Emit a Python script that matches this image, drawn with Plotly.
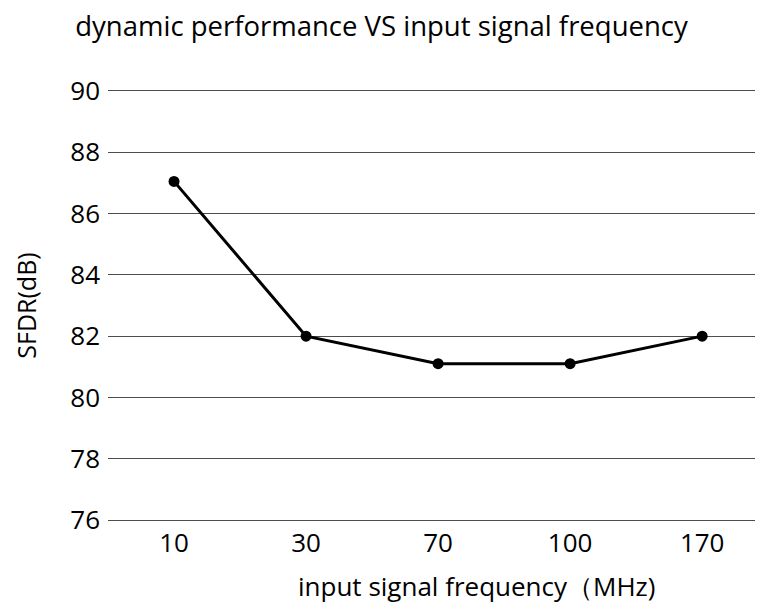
import plotly.graph_objects as go

categories = ["10", "30", "70", "100", "170"]
sfdr = [87.05, 82.0, 81.1, 81.1, 82.0]
y_ticks = [76, 78, 80, 82, 84, 86, 88, 90]

FONT = "Open Sans"
GRID = "#4d4d4d"

fig = go.Figure()
fig.add_trace(go.Scatter(
    x=categories, y=sfdr, mode="lines+markers",
    line=dict(color="black", width=3),
    marker=dict(color="black", size=11),
    showlegend=False,
))

fig.update_layout(
    width=747, height=597,
    margin=dict(l=100, r=0, t=83, b=85),
    paper_bgcolor="white", plot_bgcolor="white",
    font=dict(family=FONT, color="black"),
    title=dict(text="dynamic performance VS input signal frequency",
               x=0.5, xanchor="center", y=0.97, yanchor="middle",
               font=dict(size=27.5, family=FONT, color="black")),
)
fig.update_xaxes(
    type="category", range=[-0.5, 4.4],
    showgrid=False, ticks="",
    showline=True, mirror=True, linecolor=GRID, linewidth=1.3,
    tickfont=dict(size=26, family=FONT),
)
fig.update_yaxes(
    range=[76, 90], tickvals=y_ticks,
    showgrid=True, gridcolor=GRID, gridwidth=1.3,
    zeroline=False, showline=False, ticks="",
    ticklabelstandoff=7,
    tickfont=dict(size=26, family=FONT),
    title=dict(text="SFDR(dB)", font=dict(size=25, family=FONT), standoff=26),
)
fig.add_annotation(
    text="input signal frequency（MHz)", xref="paper", yref="paper",
    x=0.569, y=-0.153, xanchor="center", yanchor="middle", showarrow=False,
    font=dict(size=26, family=FONT, color="black"),
)

fig.write_html("out.html")
